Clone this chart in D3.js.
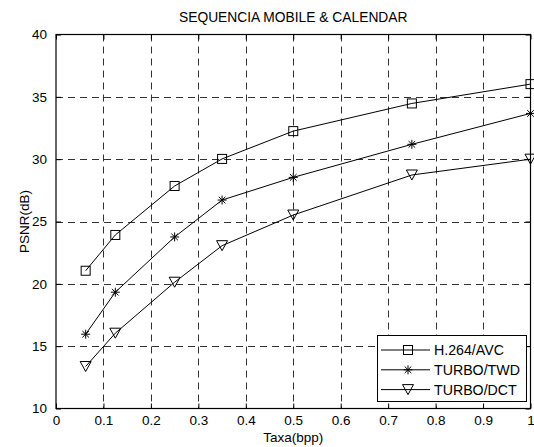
<!DOCTYPE html>
<html>
<head>
<meta charset="utf-8">
<script src="https://cdn.jsdelivr.net/npm/d3@7/dist/d3.min.js"></script>
<style>
  html, body { margin: 0; padding: 0; background: #fff; }
  text { font-family: "Liberation Sans", Arial, sans-serif; }
</style>
</head>
<body>
<svg id="chart" width="534" height="447"></svg>
<script>
const rates = [0.0625, 0.125, 0.25, 0.35, 0.5, 0.75, 1.0];
const h264 = [21.05, 23.92, 27.85, 30.02, 32.25, 34.47, 36.02];
const turboTWD = [15.96, 19.33, 23.76, 26.72, 28.54, 31.19, 33.67];
const turboDCT = [13.37, 16.04, 20.13, 23.06, 25.52, 28.73, 30.0];
const seriesNames = ["H.264/AVC", "TURBO/TWD", "TURBO/DCT"];
const markers = ["square", "star", "triangleDown"];
const xTicks = [0, 0.1, 0.2, 0.3, 0.4, 0.5, 0.6, 0.7, 0.8, 0.9, 1];
const yTicks = [10, 15, 20, 25, 30, 35, 40];
const titleText = "SEQUENCIA MOBILE & CALENDAR";
const xLabel = "Taxa(bpp)";
const yLabel = "PSNR(dB)";

const series = [h264, turboTWD, turboDCT].map((v, i) => ({
  name: seriesNames[i], marker: markers[i],
  pts: v.map((y, j) => [rates[j], y])
}));

const L = 56, R = 530.5, T = 34.5, B = 408.5;
const svg = d3.select("#chart");
const x = d3.scaleLinear().domain([0, 1]).range([L, R]);
const y = d3.scaleLinear().domain([10, 40]).range([B, T]);
const FS = 13.5;

// grid
const grid = svg.append("g").attr("stroke", "#333").attr("stroke-width", 1)
  .attr("stroke-dasharray", "7,5").attr("fill", "none");
xTicks.slice(1, -1).forEach(t => {
  grid.append("line").attr("x1", Math.round(x(t)) + 0.5).attr("x2", Math.round(x(t)) + 0.5)
    .attr("y1", T).attr("y2", B);
});
yTicks.slice(1, -1).forEach(t => {
  grid.append("line").attr("y1", Math.round(y(t)) + 0.5).attr("y2", Math.round(y(t)) + 0.5)
    .attr("x1", L).attr("x2", R);
});

// axes with inner ticks
const axB = svg.append("g").attr("transform", `translate(0,${B})`)
  .call(d3.axisBottom(x).tickValues(xTicks).tickSizeInner(-5).tickSizeOuter(0).tickPadding(7)
    .tickFormat(d => d === 0 ? "0" : d === 1 ? "1" : d3.format(".1f")(d)));
const axT = svg.append("g").attr("transform", `translate(0,${T})`)
  .call(d3.axisTop(x).tickValues(xTicks).tickSizeInner(-5).tickSizeOuter(0).tickFormat(""));
const axL = svg.append("g").attr("transform", `translate(${L},0)`)
  .call(d3.axisLeft(y).tickValues(yTicks).tickSizeInner(-5).tickSizeOuter(0).tickPadding(9));
const axR = svg.append("g").attr("transform", `translate(${R},0)`)
  .call(d3.axisRight(y).tickValues(yTicks).tickSizeInner(-5).tickSizeOuter(0).tickFormat(""));
[axB, axT, axL, axR].forEach(a => {
  a.select(".domain").remove();
  a.selectAll("line").attr("stroke", "#000");
  a.selectAll("text").attr("font-size", FS).attr("font-family", "Liberation Sans, Arial, sans-serif").attr("fill", "#000");
});
axB.selectAll("text").attr("dy", "0.71em");
svg.append("rect").attr("x", L).attr("y", T).attr("width", R - L).attr("height", B - T)
  .attr("fill", "none").attr("stroke", "#000").attr("stroke-width", 1.2);

// series
function drawMarker(g, type, cx, cy) {
  if (type === "square") {
    g.append("rect").attr("x", cx - 4.5).attr("y", cy - 4.5).attr("width", 9).attr("height", 9)
      .attr("fill", "none").attr("stroke", "#000").attr("stroke-width", 1);
  } else if (type === "star") {
    const r = 4.5, d = 3.3;
    g.append("path").attr("d",
      `M${cx - r},${cy}L${cx + r},${cy}M${cx},${cy - r}L${cx},${cy + r}` +
      `M${cx - d},${cy - d}L${cx + d},${cy + d}M${cx - d},${cy + d}L${cx + d},${cy - d}`)
      .attr("stroke", "#000").attr("stroke-width", 1).attr("fill", "none");
  } else {
    const w = 5.5, h = 5;
    g.append("path").attr("d", `M${cx - w},${cy - h}L${cx + w},${cy - h}L${cx},${cy + h}Z`)
      .attr("fill", "none").attr("stroke", "#000").attr("stroke-width", 1);
  }
}
const line = d3.line().x(d => x(d[0])).y(d => y(d[1]));
series.forEach(s => {
  const g = svg.append("g");
  g.append("path").attr("d", line(s.pts)).attr("fill", "none").attr("stroke", "#000").attr("stroke-width", 1);
  s.pts.forEach(p => drawMarker(g, s.marker, x(p[0]), y(p[1])));
});

// legend
const lg = svg.append("g");
lg.append("rect").attr("x", 377.5).attr("y", 335.5).attr("width", 149).attr("height", 66)
  .attr("fill", "#fff").attr("stroke", "#000").attr("stroke-width", 1);
series.forEach((s, i) => {
  const yy = 350 + i * 19.8;
  lg.append("line").attr("x1", 381).attr("x2", 430).attr("y1", yy).attr("y2", yy)
    .attr("stroke", "#000").attr("stroke-width", 1);
  drawMarker(lg, s.marker, 408, yy);
  lg.append("text").attr("x", 434).attr("y", yy).attr("dy", "0.36em")
    .attr("font-size", 14.2).text(s.name);
});

// labels
svg.append("text").attr("x", (L + R) / 2).attr("y", 22).attr("text-anchor", "middle")
  .attr("font-size", 13.8).text(titleText);
svg.append("text").attr("x", (L + R) / 2).attr("y", 442).attr("text-anchor", "middle")
  .attr("font-size", FS).text(xLabel);
svg.append("text").attr("transform", `translate(29,${(T + B) / 2}) rotate(-90)`)
  .attr("text-anchor", "middle").attr("font-size", FS).text(yLabel);
</script>
</body>
</html>
